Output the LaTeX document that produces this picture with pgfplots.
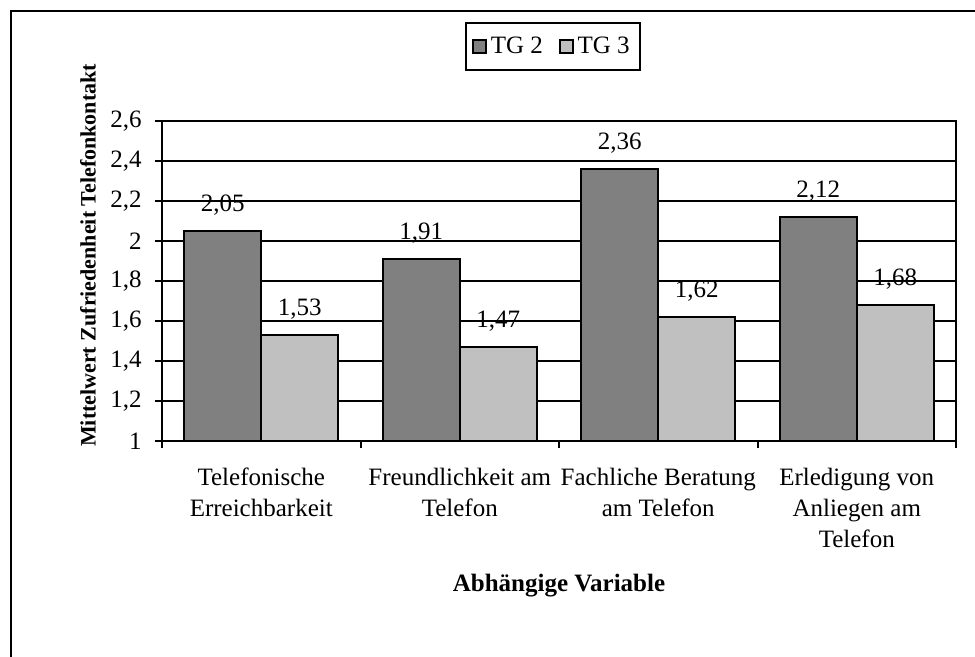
\documentclass[border=0pt]{standalone}
\usepackage{fontspec}
\setmainfont{Liberation Serif}
\usepackage{pgfplots}
\pgfplotsset{compat=1.18}
\definecolor{tgdark}{RGB}{128,128,128}
\definecolor{tglight}{RGB}{192,192,192}
\begin{document}
\begin{tikzpicture}[font=\fontsize{12.5}{15.5}\selectfont]
\draw[line width=1pt] (5.5pt,0pt) -- (5.5pt,323pt) -- (487.5pt,323pt);
\begin{axis}[
  at={(81pt,108pt)}, anchor=south west,
  scale only axis, width=397pt, height=160pt,
  xmin=0, xmax=4, ymin=1, ymax=2.6,
  /pgf/number format/assume math mode=true,
  axis line style={line width=1pt},
  every tick/.style={black, line width=1pt},
  ytick={1,1.2,1.4,1.6,1.8,2,2.2,2.4,2.6},
  yticklabel={\pgfmathprintnumber[fixed,precision=1,use comma,assume math mode=true]{\tick}},
  yticklabel style={anchor=east, inner sep=0pt, xshift=-6.5pt},
  ymajorgrids, major grid style={black, line width=1pt},
  tick align=outside, ytick pos=left, xtick pos=bottom,
  major tick length=3.5pt,
  xtick={0.5,1.5,2.5,3.5},
  xticklabels={{Telefonische\\Erreichbarkeit},{Freundlichkeit am\\Telefon},{Fachliche Beratung\\am Telefon},{Erledigung von\\Anliegen am\\Telefon}},
  xticklabel style={align=center, anchor=north, inner sep=0pt, yshift=-10pt},
  xtick style={draw=none},
  extra x ticks={0,1,2,3,4},
  extra x tick labels={},
  extra x tick style={xtick style={draw=black}, major tick length=3.5pt, grid=none},
  ybar=0pt, bar width=38.5pt,
  nodes near coords={\pgfmathprintnumber[fixed,fixed zerofill,precision=2,use comma,assume math mode=true]{\pgfplotspointmeta}},
  every node near coord/.append style={anchor=base, inner sep=0pt, yshift=9.5pt, black},
  ylabel={Mittelwert Zufriedenheit Telefonkontakt},
  ylabel style={at={(axis description cs:-0.0932,0.58)}, anchor=center, rotate=0, font=\fontsize{11}{13}\selectfont\bfseries},
  legend columns=2,
  legend style={at={(axis description cs:0.4924,1.233)}, anchor=center,
    draw=black, line width=1pt, inner xsep=3pt, inner ysep=5pt,
    /tikz/every even column/.append style={column sep=6pt}},
  legend image code/.code={\draw[#1,draw=black,line width=0.8pt] (0pt,-3.25pt) rectangle (6.5pt,3.25pt);},
]
\addplot[fill=tgdark, draw=black, line width=1pt] coordinates {(0.5,2.05) (1.5,1.91) (2.5,2.36) (3.5,2.12)};
\addplot[fill=tglight, draw=black, line width=1pt] coordinates {(0.5,1.53) (1.5,1.47) (2.5,1.62) (3.5,1.68)};
\legend{TG 2, TG 3}
\end{axis}
\node[anchor=base, font=\fontsize{12.5}{15.5}\selectfont\bfseries] at (279.5pt,32.5pt) {Abhängige Variable};
\pgfresetboundingbox
\useasboundingbox (0pt,0pt) rectangle (487.5pt,328.5pt);
\end{tikzpicture}
\end{document}
